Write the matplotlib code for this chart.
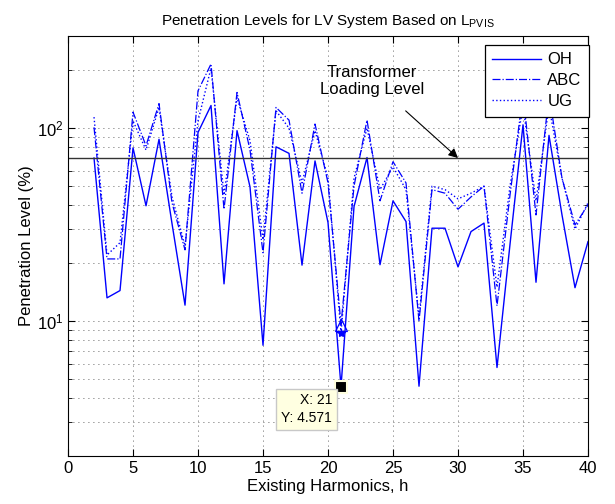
import matplotlib
matplotlib.use('Agg')
import matplotlib.pyplot as plt
from matplotlib.ticker import LogLocator, NullFormatter

# === Data ===
harmonics = list(range(2, 41))
oh = [70, 13.2, 14.4, 79, 39.6, 87.5, 32, 12.1, 95, 131,
      15.6, 97, 49.6, 7.5, 80, 74, 19.5, 67.6, 32.4, 4.571,
      39.2, 70.4, 19.6, 42, 32.8, 4.6, 30.3, 30.3, 19.1, 29.1,
      32.2, 5.75, 25, 104, 15.9, 91.7, 35.5, 14.9, 25.8]
abc = [101, 21, 21, 121, 81, 134, 41, 23.4, 156, 215,
       38, 153, 77, 22.6, 128, 110, 46, 105, 52, 9.6,
       50, 110, 42, 67, 52, 10, 48, 46, 38, 44,
       50, 12, 45, 150, 35.5, 150, 55, 31.5, 40]
ug = [114, 22, 25.5, 109, 77, 128, 44, 24.5, 109, 205,
      45, 144, 86, 26.4, 123, 100, 52, 97, 55, 8.7,
      55, 100, 48, 63, 48, 10.5, 50, 48, 43, 46,
      50, 15, 50, 130, 42, 130, 55, 30, 41]
transformer_level = 70
tip_x, tip_y = 21, 4.571

# === Style ===
plt.rcParams['font.family'] = ['Liberation Sans', 'DejaVu Sans']
plt.rcParams['mathtext.fontset'] = 'custom'
plt.rcParams['mathtext.rm'] = 'Liberation Sans'
plt.rcParams['mathtext.it'] = 'Liberation Sans:italic'
plt.rcParams['mathtext.default'] = 'regular'

fig = plt.figure(figsize=(6.15, 5.04), dpi=100)
ax = fig.add_axes([0.1106, 0.0952, 0.8455, 0.8333])

ax.plot(harmonics, oh, '-', color='blue', lw=1.0, label='OH')
ax.plot(harmonics, abc, '-.', color='blue', lw=0.9, label='ABC')
ax.plot(harmonics, ug, ':', color='blue', lw=1.0, label='UG')

# markers on the minimum of ABC and UG at h=21
ax.plot(21, abc[harmonics.index(21)], '^', color='blue', mfc='none', ms=8, mew=0.9)
ax.plot(21, ug[harmonics.index(21)], '*', color='blue', ms=6, mew=0.8)

# transformer loading line
ax.axhline(transformer_level, color='#333333', lw=1.0)
ax.annotate('Transformer\nLoading Level', xy=(30, transformer_level), xytext=(23.4, 176),
            ha='center', va='center', fontsize=12,
            arrowprops=dict(arrowstyle='-|>', color='black', lw=0.8,
                            mutation_scale=14, shrinkA=12, shrinkB=0))

# data tip
ax.plot(tip_x, tip_y, 's', color='black', mec='#ffffe0', ms=8, mew=1.5, zorder=5)
ax.text(20.3, 3.5, 'X: 21\nY: 4.571', ha='right', va='center', fontsize=10,
        linespacing=1.3,
        bbox=dict(boxstyle='square,pad=0.35', fc='#ffffe1', ec='#c8c8c8', lw=1.0),
        zorder=6)

ax.set_yscale('log')
ax.set_xlim(0, 40)
ax.set_ylim(2, 300)
ax.set_xticks(range(0, 41, 5))
ax.yaxis.set_major_locator(LogLocator(base=10))
ax.yaxis.set_minor_locator(LogLocator(base=10, subs=range(2, 10)))
ax.yaxis.set_minor_formatter(NullFormatter())

ax.grid(True, which='major', color='#333333', linestyle=(0, (1, 5)), lw=0.6)
ax.grid(True, which='minor', axis='y', color='#333333', linestyle=(0, (1, 5)), lw=0.6)
ax.tick_params(which='both', direction='in', top=True, right=True, labelsize=12)
ax.tick_params(which='major', length=5)
ax.tick_params(which='minor', length=3)
for s in ax.spines.values():
    s.set_linewidth(0.8)

ax.set_title(r'Penetration Levels for LV System Based on L$_{PVIS}$', fontsize=11, pad=8)
ax.set_xlabel('Existing Harmonics, h', fontsize=12, labelpad=2)
ax.set_ylabel('Penetration Level (%)', fontsize=12, labelpad=2)

leg = ax.legend(loc='upper right', bbox_to_anchor=(1.002, 0.979), borderaxespad=0,
                fontsize=12, fancybox=False, framealpha=1, edgecolor='black',
                handlelength=2.9, handletextpad=0.4, borderpad=0.45, labelspacing=0.35)
leg.get_frame().set_linewidth(0.9)

plt.savefig('out.png', dpi=100)
